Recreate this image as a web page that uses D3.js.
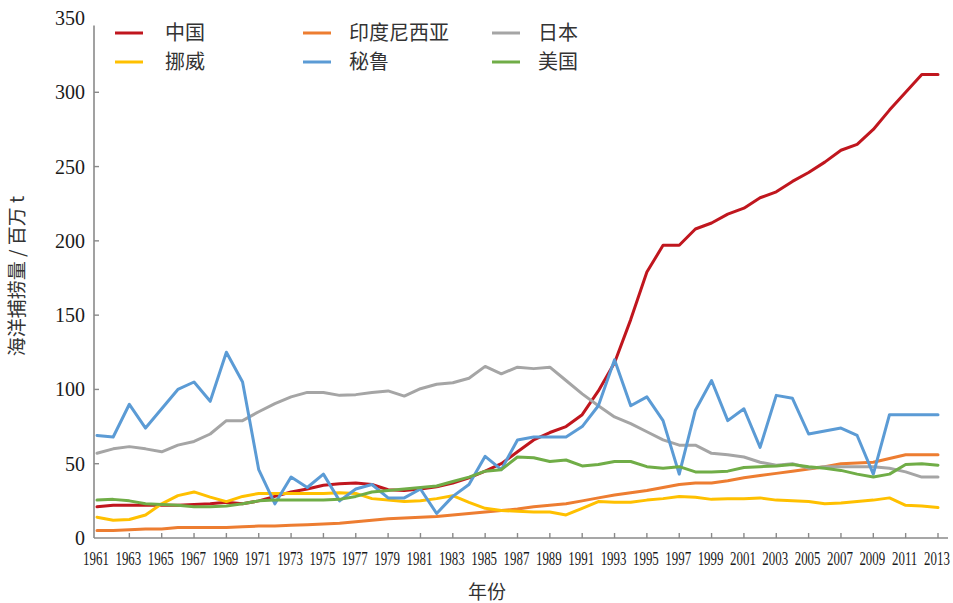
<!DOCTYPE html>
<html><head><meta charset="utf-8">
<script src="https://cdn.jsdelivr.net/npm/d3@7"></script>
<style>
html,body{margin:0;padding:0;background:#fff;}
svg{display:block;}
</style></head>
<body>
<svg id="chart" width="953" height="603"></svg>
<script>
const years = d3.range(1961, 2014);
const seriesNames = ["中国", "印度尼西亚", "日本", "挪威", "秘鲁", "美国"];
const seriesColors = ["#C0161E", "#ED7D31", "#A5A5A5", "#FFC000", "#5B9BD5", "#70AD47"];
const china = [21,22,22,22,22,22,22.5,23,24,23,25,28,31,33,35.5,36.5,37,36,32.5,32,33,34.5,37,40.5,45,50,58,66,71,75,83,99,118,147,179,197,197,208,212,218,222,229,233,240,246,253,261,265,275,288,300,312,312];
const indonesia = [5,5,5.5,6,6,7,7,7,7,7.5,8,8,8.5,9,9.5,10,11,12,13,13.5,14,14.5,15.5,16.5,17.5,18.5,19.5,21,22,23,25,27,29,30.5,32,34,36,37,37,38.5,40.5,42,43.5,45,46.5,48,50,50.5,51,53.5,56,56,56];
const japan = [57,60,61.5,60,58,62.5,65,70,79,79,85,90.5,95,98,98,96,96.5,98,99,95.5,100.5,103.5,104.5,107.5,115.5,110.5,115,114,115,106,97,89,81.5,77,71.5,66,62.5,62.5,57,56,54.5,51,49,50,47,48,48,48,48,47,44.5,41,41];
const norway = [14,12,12.5,15.5,23,28.5,31,27.5,24.5,28,30,30,30,30,30,30.5,30,26.5,25.5,24.5,25,26.5,28.5,24,20,18.5,18,17.5,17.5,15.5,20,24.5,24,24,25.5,26.5,28,27.5,26,26.5,26.5,27,25.5,25,24.5,23,23.5,24.5,25.5,27,22,21.5,20.5];
const peru = [69,68,90,74,87,100,105,92,125,105,46,23,41,34,43,25,33,36,27,27,33,16.5,28,36,55,46,66,68,68,68,75,89,120,89,95,79,43,86,106,79,87,61,96,94,70,72,74,69,43,83,83,83,83];
const usa = [25.5,26,25,23,22.5,22,21,21,21.5,23,25,25.5,25.5,25.5,25.5,26,28,31,32,33,34,35,38,41,45,46,54.5,54,51.5,52.5,48.5,49.5,51.5,51.5,48,47,48,44.5,44.5,45,47.5,48,48.5,49.5,48,47,45.5,43,41,43,49.5,50,49];
const yTicks = [0,50,100,150,200,250,300,350];
const xTickYears = d3.range(1961, 2014, 2);
const yTitle = "海洋捕捞量 / 百万 t";
const xTitle = "年份";

const seriesData = [china, indonesia, japan, norway, peru, usa];

const svg = d3.select("#chart");
const x = d3.scaleLinear().domain([1961, 2013]).range([97, 938]);
const y = d3.scaleLinear().domain([0, 350]).range([538, 18]);

const axisColor = "#8a8a8a";
const axisX0 = 94;

// axes lines
svg.append("line").attr("x1", axisX0).attr("x2", axisX0)
  .attr("y1", y(345)).attr("y2", y(0)).attr("stroke", axisColor).attr("stroke-width", 1.6);
svg.append("line").attr("x1", axisX0).attr("x2", x(2013) + 10)
  .attr("y1", y(0)).attr("y2", y(0)).attr("stroke", axisColor).attr("stroke-width", 1.6);

// y ticks (inward)
const yg = svg.append("g");
yg.selectAll("line").data(yTicks.filter(d => d > 0 && d < 350)).join("line")
  .attr("x1", axisX0).attr("x2", axisX0 + 5)
  .attr("y1", d => y(d)).attr("y2", d => y(d))
  .attr("stroke", axisColor).attr("stroke-width", 1.4);
yg.selectAll("text").data(yTicks).join("text")
  .attr("x", 85).attr("y", d => y(d)).attr("dy", "0.35em")
  .attr("text-anchor", "end")
  .attr("font-family", "'Liberation Serif', 'Times New Roman', serif")
  .attr("font-size", 20).attr("fill", "#1a1a1a")
  .text(d => d);

// x ticks (inward)
const xg = svg.append("g");
xg.selectAll("line").data(xTickYears.filter(d => d > 1961)).join("line")
  .attr("x1", d => x(d)).attr("x2", d => x(d))
  .attr("y1", y(0)).attr("y2", y(0) - 5)
  .attr("stroke", axisColor).attr("stroke-width", 1.4);
xg.selectAll("text").data(xTickYears).join("text")
  .attr("transform", d => `translate(${x(d) - 1},565) scale(0.68,1)`)
  .attr("text-anchor", "middle")
  .attr("font-family", "'Liberation Serif', 'Times New Roman', serif")
  .attr("font-size", 19).attr("fill", "#1a1a1a")
  .text(d => d);

// titles
svg.append("text")
  .attr("transform", "translate(24,276) rotate(-90)")
  .attr("text-anchor", "middle")
  .attr("font-family", "'Noto Sans CJK SC', sans-serif")
  .attr("font-size", 19).attr("fill", "#333")
  .text(yTitle);
svg.append("text")
  .attr("x", 487).attr("y", 599)
  .attr("text-anchor", "middle")
  .attr("font-family", "'Noto Sans CJK SC', sans-serif")
  .attr("font-size", 19).attr("fill", "#333")
  .text(xTitle);

// lines
const line = d3.line().x((d, i) => x(years[i])).y(d => y(d));
svg.append("g").selectAll("path").data(seriesData).join("path")
  .attr("d", d => line(d))
  .attr("fill", "none")
  .attr("stroke", (d, i) => seriesColors[i])
  .attr("stroke-width", 3)
  .attr("stroke-linejoin", "round")
  .attr("stroke-linecap", "round");

// legend
const legCols = [115, 303, 492];
const legRows = [33, 62];
const lg = svg.append("g");
seriesNames.forEach((name, i) => {
  const cx = legCols[i % 3], cy = legRows[Math.floor(i / 3)];
  lg.append("line").attr("x1", cx).attr("x2", cx + 28)
    .attr("y1", cy).attr("y2", cy)
    .attr("stroke", seriesColors[i]).attr("stroke-width", 3);
  lg.append("text").attr("x", cx + (i % 3 === 0 ? 50 : 46)).attr("y", cy).attr("dy", "0.36em")
    .attr("font-family", "'Noto Sans CJK SC', sans-serif")
    .attr("font-size", 20).attr("fill", "#333")
    .text(name);
});
</script>
</body></html>
